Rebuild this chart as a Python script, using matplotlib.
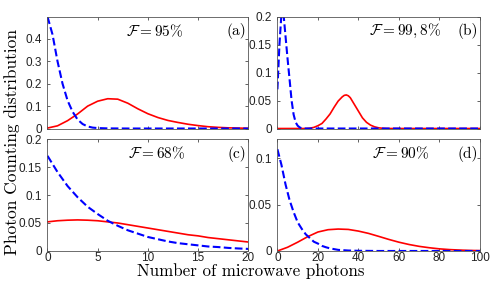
import matplotlib
matplotlib.use("Agg")
import matplotlib.pyplot as plt

plt.rcParams['mathtext.fontset'] = 'cm'
plt.rcParams['font.family'] = ['Liberation Sans', 'DejaVu Sans']

# panel (a): F = 95%
a_red_x = list(range(0, 21))
a_red_y = [0.002, 0.012, 0.035, 0.065, 0.1, 0.122, 0.133, 0.131, 0.113, 0.088, 0.066,
           0.049, 0.036, 0.027, 0.019, 0.013, 0.008, 0.005, 0.003, 0.002, 0.001]
a_blue_x = [0, 0.5, 1, 1.5, 2, 2.5, 3, 3.5, 4, 4.5, 5, 6, 8, 20]
a_blue_y = [0.5, 0.42, 0.30, 0.20, 0.125, 0.075, 0.04, 0.02, 0.009, 0.004, 0.002, 0.0005, 0, 0]

# panel (b): F = 99,8%
b_red_x = [0, 14, 16, 18, 20, 22, 24, 26, 28, 30, 32, 33, 34, 35, 36, 38, 40, 42, 44, 46, 48, 50, 52, 54, 100]
b_red_y = [0, 0, 0.0005, 0.002, 0.005, 0.009, 0.017, 0.026, 0.038, 0.049, 0.0565, 0.0592, 0.06, 0.0585,
           0.055, 0.043, 0.031, 0.019, 0.011, 0.006, 0.003, 0.0012, 0.0004, 0, 0]
b_blue_x = [0, 1, 2, 3, 4, 5, 6, 7, 8, 9, 10, 11, 12, 14, 100]
b_blue_y = [0.07, 0.15, 0.205, 0.205, 0.165, 0.125, 0.088, 0.05, 0.025, 0.011, 0.005, 0.002, 0.0005, 0, 0]

# panel (c): F = 68%
c_x = list(range(0, 21))
c_red_y = [0.052, 0.054, 0.055, 0.0555, 0.055, 0.054, 0.052, 0.05, 0.047, 0.044, 0.041,
           0.038, 0.035, 0.032, 0.029, 0.027, 0.024, 0.022, 0.02, 0.018, 0.016]
c_blue_y = [0.17, 0.141, 0.116, 0.096, 0.079, 0.066, 0.054, 0.045, 0.037, 0.031, 0.025,
            0.021, 0.017, 0.014, 0.012, 0.010, 0.008, 0.007, 0.0055, 0.0045, 0.0037]

# panel (d): F = 90%
d_red_x = [0, 5, 10, 15, 20, 25, 30, 35, 40, 45, 50, 55, 60, 65, 70, 75, 80, 85, 90, 95, 100]
d_red_y = [0, 0.004, 0.0095, 0.0155, 0.0205, 0.023, 0.0237, 0.0233, 0.0215, 0.019, 0.0158,
           0.0125, 0.0095, 0.007, 0.005, 0.0035, 0.0023, 0.0015, 0.001, 0.0006, 0.0004]
d_blue_x = [0, 2, 4, 6, 8, 10, 12, 14, 16, 18, 20, 22, 24, 26, 28, 30, 35, 40, 50, 100]
d_blue_y = [0.11, 0.093, 0.072, 0.055, 0.042, 0.031, 0.024, 0.018, 0.014, 0.01, 0.008,
            0.0055, 0.004, 0.0028, 0.002, 0.0012, 0.0005, 0.0002, 0, 0]

panels = [
    dict(pos=[0.0967, 0.5443, 0.409, 0.397], red=(a_red_x, a_red_y), blue=(a_blue_x, a_blue_y),
         xlim=20, ylim=0.5, xt=[0, 5, 10, 15, 20], yt=[0, 0.1, 0.2, 0.3, 0.4],
         ytl=['0', '0.1', '0.2', '0.3', '0.4'], fid=r'$\mathcal{F}=95\%$', fx=0.535, lab='(a)', xlab=False),
    dict(pos=[0.565, 0.5443, 0.4124, 0.397], red=(b_red_x, b_red_y), blue=(b_blue_x, b_blue_y),
         xlim=100, ylim=0.2, xt=[0, 20, 40, 60, 80, 100], yt=[0, 0.05, 0.1, 0.15, 0.2],
         ytl=['0', '0.05', '0.1', '0.15', '0.2'], fid=r'$\mathcal{F}=99,8\%$', fx=0.63, lab='(b)', xlab=False),
    dict(pos=[0.0967, 0.110, 0.409, 0.397], red=(c_x, c_red_y), blue=(c_x, c_blue_y),
         xlim=20, ylim=0.2, xt=[0, 5, 10, 15, 20], yt=[0, 0.05, 0.1, 0.15, 0.2],
         ytl=['0', '0.05', '0.1', '0.15', '0.2'], fid=r'$\mathcal{F}=68\%$', fx=0.545, lab='(c)', xlab=True),
    dict(pos=[0.565, 0.110, 0.4124, 0.397], red=(d_red_x, d_red_y), blue=(d_blue_x, d_blue_y),
         xlim=100, ylim=0.121, xt=[0, 20, 40, 60, 80, 100], yt=[0, 0.05, 0.1],
         ytl=['0', '0.05', '0.1'], fid=r'$\mathcal{F}=90\%$', fx=0.61, lab='(d)', xlab=True),
]

fig = plt.figure(figsize=(4.91, 2.82), dpi=100)

for p in panels:
    ax = fig.add_axes(p['pos'])
    ax.plot(*p['red'], color='red', lw=1.2)
    ax.plot(*p['blue'], color='blue', lw=1.5, ls='--')
    ax.set_xlim(0, p['xlim'])
    ax.set_ylim(0, p['ylim'])
    ax.set_xticks(p['xt'])
    ax.set_yticks(p['yt'])
    ax.set_yticklabels(p['ytl'])
    if p['xlab']:
        ax.set_xticklabels([str(t) for t in p['xt']])
    else:
        ax.set_xticklabels([])
    ax.tick_params(direction='in', top=True, right=True, length=2.5, width=0.5,
                   labelsize=8.5, colors='#222222')
    ax.tick_params(axis='y', pad=4)
    ax.tick_params(axis='x', pad=0.5)
    for s in ax.spines.values():
        s.set_linewidth(0.6)
        s.set_color('#555555')
    ax.text(p['fx'], 0.87, p['fid'], transform=ax.transAxes, ha='center', va='center', fontsize=11)
    ax.text(0.99, 0.87, p['lab'], transform=ax.transAxes, ha='right', va='center',
            fontsize=11, family='cmr10')

fig.text(0.024, 0.496, 'Photon Counting distribution', rotation=90, ha='center', va='center',
         fontsize=12.5, family='cmr10')
fig.text(0.511, 0.021, 'Number of microwave photons', ha='center', va='baseline',
         fontsize=12.2, family='cmr10')

fig.savefig('out.png', dpi=100)
